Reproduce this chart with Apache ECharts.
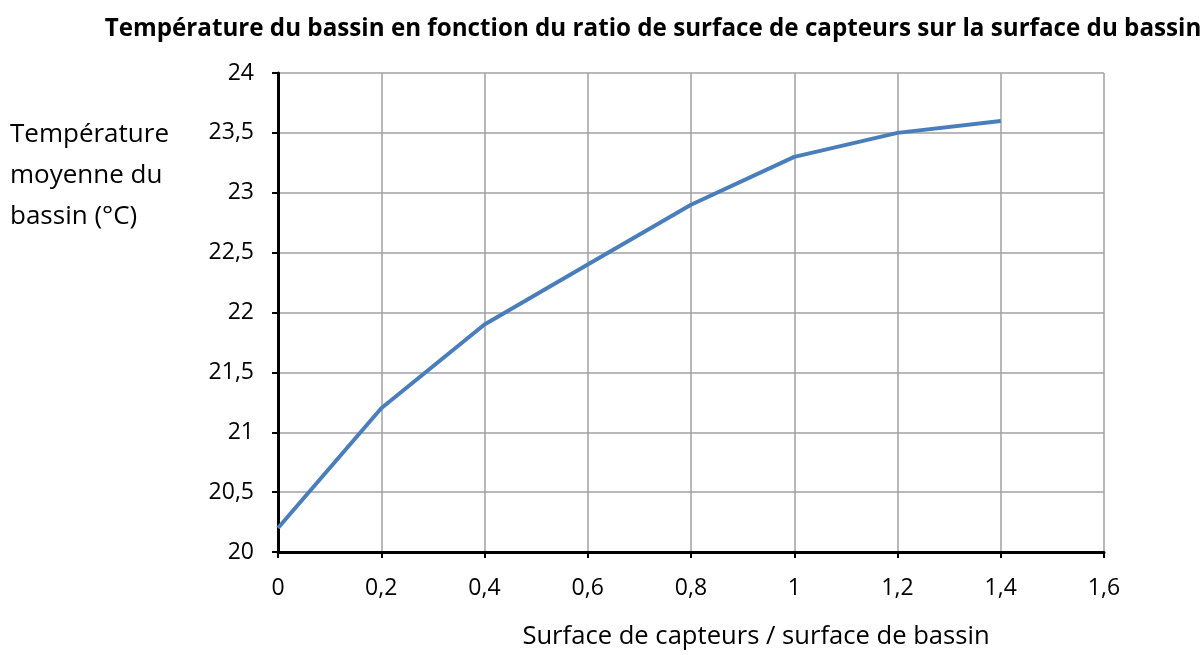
<!DOCTYPE html>
<html>
<head>
<meta charset="utf-8">
<script src="https://cdn.jsdelivr.net/npm/echarts@6/dist/echarts.min.js"></script>
<style>html,body{margin:0;padding:0;background:#fff}#chart{width:1200px;height:655px}</style>
</head>
<body>
<div id="chart"></div>
<script>
// ratio surface capteurs / surface bassin
const ratios = [0, 0.2, 0.4, 0.6, 0.8, 1.0, 1.2, 1.4]
// température moyenne (°C)
const temps = [20.2, 21.2, 21.9, 22.4, 22.9, 23.3, 23.5, 23.6]

const chart = echarts.init(document.getElementById('chart'))
const font = 'Open Sans'
const comma = v => String(+v.toFixed(1)).replace('.', ',')

chart.setOption({
  animation: false,
  title: {
    text: 'Température du bassin en fonction du ratio de surface de capteurs sur la surface du bassin',
    left: 648, top: 12, textAlign: 'center',
    textStyle: { fontFamily: font, fontSize: 24.2, fontWeight: 'bold', color: '#000' }
  },
  graphic: [{
    type: 'text', left: 10, top: 114,
    style: { text: 'Température\nmoyenne du\nbassin (°C)', fontFamily: font, fontSize: 26, lineHeight: 41, fill: '#000' }
  }, {
    // titre de l'axe x, décalé à droite comme dans l'original
    type: 'text', x: 756, y: 637,
    style: { text: 'Surface de capteurs / surface de bassin', fontFamily: font, fontSize: 25.6, fill: '#000', align: 'center', verticalAlign: 'middle' }
  }],
  grid: { left: 278, right: 96, top: 73, bottom: 103 },
  xAxis: {
    type: 'value', min: 0, max: 1.6, interval: 0.2,
    axisLine: { lineStyle: { color: '#000', width: 3 } },
    axisTick: { show: true, length: 6, lineStyle: { color: '#000', width: 2 } },
    axisLabel: { formatter: comma, fontFamily: font, fontSize: 23, color: '#000', margin: 25 },
    splitLine: { show: true, lineStyle: { color: '#a0a0a0', width: 1.5 } }
  },
  yAxis: {
    type: 'value', min: 20, max: 24, interval: 0.5,
    axisLine: { show: true, lineStyle: { color: '#000', width: 3 } },
    axisTick: { show: true, length: 6, lineStyle: { color: '#000', width: 2 } },
    axisLabel: { formatter: comma, fontFamily: font, fontSize: 23, color: '#000', margin: 24 },
    splitLine: { show: true, lineStyle: { color: '#a0a0a0', width: 1.5 } }
  },
  series: [{
    type: 'line',
    data: ratios.map((r, i) => [r, temps[i]]),
    showSymbol: false,
    lineStyle: { color: '#4a7ebb', width: 4 }
  }]
})
</script>
</body>
</html>
